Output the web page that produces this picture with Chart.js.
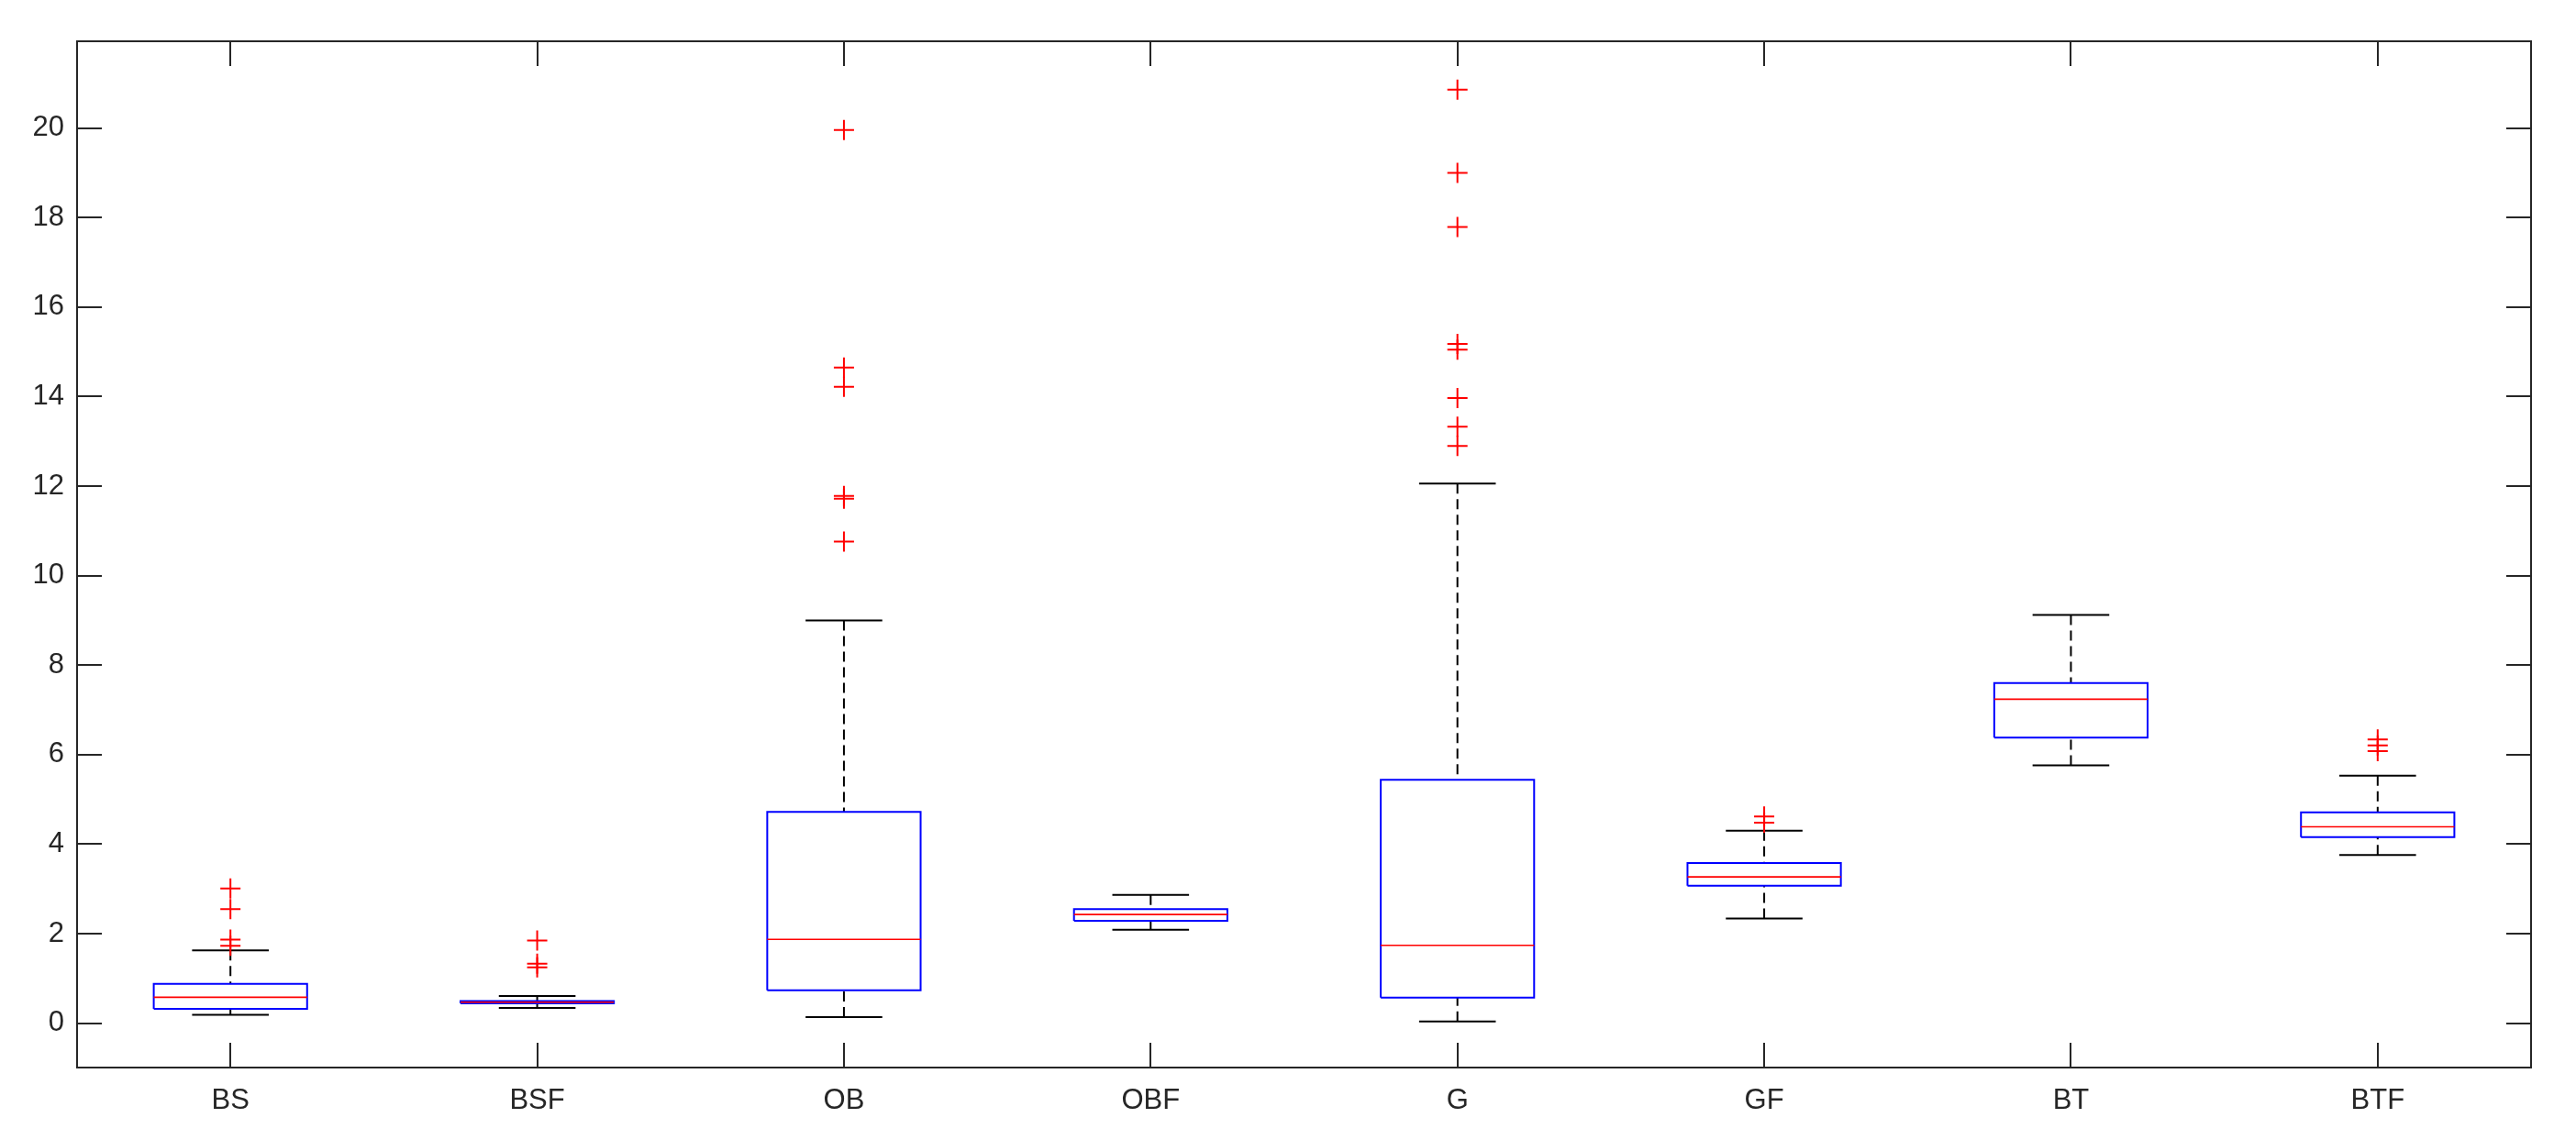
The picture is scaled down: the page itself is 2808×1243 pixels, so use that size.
<!DOCTYPE html>
<html>
<head>
<meta charset="utf-8">
<script src="https://cdn.jsdelivr.net/npm/chart.js@4.4.0/dist/chart.umd.min.js"></script>
<style>
  html, body { margin: 0; padding: 0; background: #fff; }
  canvas { display: block; }
</style>
</head>
<body>
<canvas id="box-chart" width="2808" height="1243"></canvas>
<script>
// groups and box statistics
var categories = ["BS", "BSF", "OB", "OBF", "G", "GF", "BT", "BTF"];
var whiskerLow  = [0.19, 0.34, 0.135, 2.09, 0.04, 2.34, 5.76, 3.76];
var q1          = [0.32, 0.445, 0.735, 2.29, 0.57, 3.07, 6.38, 4.16];
var median      = [0.58, 0.47, 1.875, 2.43, 1.74, 3.27, 7.24, 4.39];
var q3          = [0.88, 0.495, 4.72, 2.55, 5.44, 3.58, 7.60, 4.71];
var whiskerHigh = [1.63, 0.61, 9.0, 2.87, 12.06, 4.30, 9.12, 5.53];
var outliers = [
    [3.01, 2.55, 1.87, 1.73],
    [1.85, 1.33, 1.25],
    [19.96, 14.65, 14.22, 11.78, 11.72, 10.76],
    [],
    [20.86, 19.0, 17.79, 15.18, 15.05, 13.97, 13.33, 12.9],
    [4.62, 4.48],
    [],
    [6.34, 6.21, 6.08]
];
var yTicks = [0, 2, 4, 6, 8, 10, 12, 14, 16, 18, 20];

var boxHalf = 0.25, capHalf = 0.125;
var GAP = {x: null, y: null};

// build segment lists for the line datasets
var boxPts = [], medPts = [], capPts = [], whiskPts = [], outPts = [];
categories.forEach(function(c, i) {
    var x = i + 1;
    boxPts.push({x: x - boxHalf, y: q1[i]}, {x: x + boxHalf, y: q1[i]},
                {x: x + boxHalf, y: q3[i]}, {x: x - boxHalf, y: q3[i]},
                {x: x - boxHalf, y: q1[i]}, GAP);
    medPts.push({x: x - boxHalf, y: median[i]}, {x: x + boxHalf, y: median[i]}, GAP);
    capPts.push({x: x - capHalf, y: whiskerHigh[i]}, {x: x + capHalf, y: whiskerHigh[i]}, GAP,
                {x: x - capHalf, y: whiskerLow[i]}, {x: x + capHalf, y: whiskerLow[i]}, GAP);
    whiskPts.push({x: x, y: whiskerHigh[i]}, {x: x, y: q3[i]}, GAP,
                  {x: x, y: whiskerLow[i]}, {x: x, y: q1[i]}, GAP);
    outliers[i].forEach(function(v) { outPts.push({x: x, y: v}); });
});

var axisColor = "#262626";

// MATLAB style frame with inward ticks on all four sides
var frameTicks = {
    id: "frameTicks",
    beforeDatasetsDraw: function(chart) {
        var ctx = chart.ctx, a = chart.chartArea;
        var xs = chart.scales.x, ys = chart.scales.y, len = 27;
        ctx.save();
        ctx.strokeStyle = axisColor;
        ctx.lineWidth = 2;
        ctx.beginPath();
        xs.ticks.forEach(function(t) {
            var px = Math.round(xs.getPixelForValue(t.value));
            ctx.moveTo(px, a.bottom); ctx.lineTo(px, a.bottom - len);
            ctx.moveTo(px, a.top); ctx.lineTo(px, a.top + len);
        });
        ys.ticks.forEach(function(t) {
            var py = Math.round(ys.getPixelForValue(t.value));
            ctx.moveTo(a.left, py); ctx.lineTo(a.left + len, py);
            ctx.moveTo(a.right, py); ctx.lineTo(a.right - len, py);
        });
        ctx.stroke();
        ctx.strokeRect(a.left, a.top, a.right - a.left, a.bottom - a.top);
        ctx.restore();
    }
};

new Chart(document.getElementById("box-chart"), {
    type: "line",
    data: {
        datasets: [
            {
                label: "outliers",
                type: "scatter",
                data: outPts,
                pointStyle: "cross",
                pointRadius: 11,
                pointBorderWidth: 2,
                pointBorderColor: "#ff0000",
                borderColor: "#ff0000",
                order: 0
            }, {
                label: "median",
                data: medPts,
                borderColor: "#ff0000",
                borderWidth: 1.6,
                pointRadius: 0,
                spanGaps: false,
                order: 1
            }, {
                label: "box",
                data: boxPts,
                borderColor: "#0000ff",
                borderWidth: 2,
                borderJoinStyle: "miter",
                pointRadius: 0,
                spanGaps: false,
                order: 2
            }, {
                label: "caps",
                data: capPts,
                borderColor: "#000000",
                borderWidth: 2,
                pointRadius: 0,
                spanGaps: false,
                order: 3
            }, {
                label: "whiskers",
                data: whiskPts,
                borderColor: "#000000",
                borderWidth: 2,
                borderDash: [11, 6],
                pointRadius: 0,
                spanGaps: false,
                order: 4
            }
        ]
    },
    options: {
        responsive: false,
        devicePixelRatio: 1,
        animation: false,
        layout: { padding: { top: 45, right: 49, bottom: 0, left: 0 } },
        plugins: {
            legend: { display: false },
            tooltip: { enabled: false }
        },
        scales: {
            x: {
                type: "linear",
                min: 0.5,
                max: categories.length + 0.5,
                afterBuildTicks: function(scale) {
                    scale.ticks = categories.map(function(c, i) { return {value: i + 1}; });
                },
                afterFit: function(scale) { scale.height = 79; },
                ticks: {
                    padding: 18,
                    color: axisColor,
                    font: { family: "'Liberation Sans', Arial, sans-serif", size: 31 },
                    callback: function(v) { return categories[v - 1]; },
                    maxRotation: 0,
                    autoSkip: false
                },
                grid: { display: false, drawTicks: false },
                border: { display: false }
            },
            y: {
                type: "linear",
                min: -0.99,
                max: 21.94,
                afterBuildTicks: function(scale) {
                    scale.ticks = yTicks.map(function(v) { return {value: v}; });
                },
                afterFit: function(scale) { scale.width = 84; },
                ticks: {
                    padding: 14,
                    color: axisColor,
                    font: { family: "'Liberation Sans', Arial, sans-serif", size: 31 }
                },
                grid: { display: false, drawTicks: false },
                border: { display: false }
            }
        }
    },
    plugins: [frameTicks]
});
</script>
</body>
</html>
